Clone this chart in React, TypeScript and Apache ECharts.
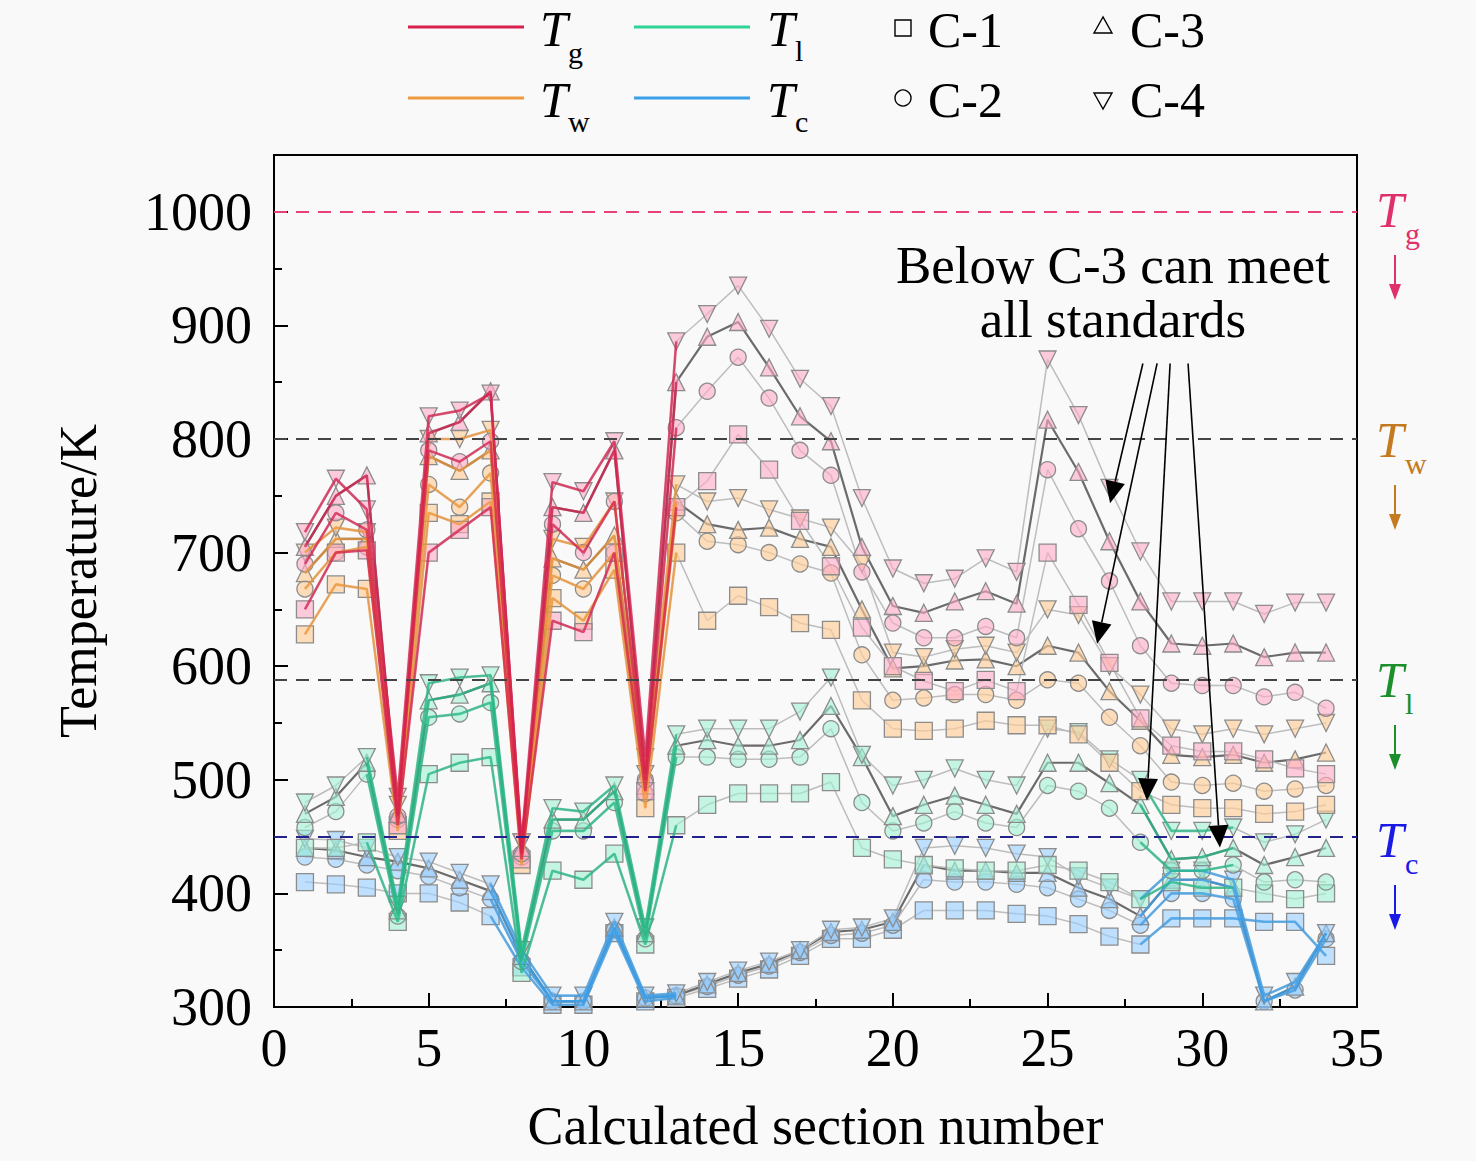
import { useEffect, useRef } from "react";
import * as echarts from "echarts";

const sections = [1, 2, 3, 4, 5, 6, 7, 8, 9, 10, 11, 12, 13, 14, 15, 16, 17, 18, 19, 20, 21, 22, 23, 24, 25, 26, 27, 28, 29, 30, 31, 32, 33, 34];

// gas temperature
const tgC1 = [650, 700, 702, 460, 700, 720, 740, 430, 640, 630, 700, 490, 740, 763, 804, 773, 728, 688, 634, 600, 587, 578, 588, 578, 700, 654, 603, 554, 530, 525, 525, 518, 510, 505];
const tgC2 = [690, 735, 720, 468, 790, 780, 798, 435, 725, 700, 745, 500, 810, 842, 872, 836, 790, 768, 683, 638, 625, 625, 635, 625, 773, 721, 675, 618, 585, 583, 583, 573, 577, 563];
const tgC3 = [705, 750, 768, 470, 805, 815, 842, 440, 740, 735, 790, 505, 850, 890, 903, 863, 820, 798, 705, 653, 647, 657, 666, 655, 817, 771, 710, 657, 620, 618, 620, 608, 612, 612];
const tgC4 = [718, 765, 738, 485, 820, 825, 840, 445, 762, 754, 798, 520, 886, 910, 935, 897, 853, 829, 748, 686, 673, 677, 695, 683, 870, 821, 757, 701, 657, 657, 657, 646, 656, 656];

// wall temperature
const twC1 = [628, 672, 668, 455, 735, 725, 745, 425, 660, 640, 685, 475, 700, 640, 662, 652, 638, 632, 570, 545, 543, 545, 552, 548, 548, 540, 515, 490, 478, 475, 475, 470, 472, 478];
const twC2 = [668, 700, 705, 465, 760, 740, 770, 432, 680, 668, 700, 488, 735, 710, 707, 700, 690, 682, 610, 570, 572, 575, 575, 570, 588, 585, 555, 530, 498, 495, 497, 490, 492, 495];
const twC3 = [682, 712, 712, 470, 785, 772, 790, 438, 695, 685, 715, 495, 745, 725, 720, 722, 712, 705, 650, 598, 600, 605, 606, 600, 618, 612, 578, 552, 522, 520, 522, 515, 518, 524];
const twC4 = [700, 722, 718, 478, 800, 800, 808, 445, 712, 705, 745, 505, 760, 745, 748, 738, 730, 722, 690, 612, 608, 615, 618, 612, 650, 645, 600, 575, 545, 540, 545, 540, 545, 550];

// liner temperature
const tlC1 = [440, 440, 445, 375, 505, 515, 520, 330, 420, 412, 435, 355, 460, 478, 488, 488, 488, 498, 440, 430, 425, 422, 420, 420, 425, 420, 410, 395, 410, 405, 405, 400, 395, 400];
const tlC2 = [458, 472, 505, 380, 555, 558, 568, 340, 455, 455, 480, 360, 520, 520, 518, 518, 520, 545, 480, 455, 462, 472, 462, 458, 495, 490, 475, 445, 420, 420, 425, 410, 412, 410];
const tlC3 = [470, 485, 515, 385, 570, 575, 585, 345, 465, 465, 490, 365, 530, 535, 530, 530, 535, 565, 520, 468, 478, 486, 478, 470, 515, 515, 497, 478, 430, 432, 440, 425, 432, 440];
const tlC4 = [480, 495, 520, 390, 585, 590, 592, 350, 475, 472, 495, 370, 540, 545, 545, 545, 560, 590, 522, 495, 500, 510, 500, 495, 545, 542, 518, 500, 455, 455, 458, 445, 452, 465];

// coolant temperature
const tcC1 = [410, 408, 405, 400, 400, 392, 380, 335, 302, 302, 365, 305, 308, 316, 325, 333, 345, 360, 360, 368, 385, 385, 385, 382, 380, 373, 362, 355, 378, 378, 378, 375, 375, 345];
const tcC2 = [432, 430, 425, 420, 415, 405, 395, 340, 305, 305, 368, 308, 310, 318, 328, 336, 348, 363, 365, 372, 412, 410, 410, 408, 405, 395, 385, 372, 400, 400, 395, 305, 315, 360];
const tcC3 = [440, 438, 432, 428, 422, 412, 402, 345, 305, 305, 370, 308, 310, 320, 330, 338, 350, 366, 368, 375, 425, 420, 420, 418, 418, 405, 395, 380, 412, 412, 405, 305, 318, 365];
const tcC4 = [448, 447, 440, 432, 428, 418, 408, 350, 310, 310, 375, 310, 312, 322, 332, 340, 350, 368, 370, 378, 440, 442, 440, 435, 432, 415, 405, 395, 420, 420, 412, 310, 322, 365];

const caseNames = ["C-1", "C-2", "C-3", "C-4"];
const caseSymbols = ["rect", "circle", "triangle", "triangle"];
const caseRotate = [0, 0, 0, 180];
const caseLine = ["#bdbdbd", "#bdbdbd", "#6b6b6b", "#bdbdbd"];
const caseWidth = [1.5, 1.5, 2.2, 1.5];

const limits = [1000, 800, 588, 450];
const limitColors = ["#e8407a", "#444444", "#444444", "#22228a"];

// annotation arrows: [start, tip] in data units
const noteArrows = [
  [[28.08, 866.5], [27.02, 743.5]],
  [[28.54, 866.5], [26.6, 619.7]],
  [[28.96, 866.5], [28.21, 481.8]],
  [[29.54, 866.5], [30.57, 440.5]],
];

const FONT = "'Liberation Serif', 'Times New Roman', serif";

const variables = [
  { name: "Tc", values: [tcC1, tcC2, tcC3, tcC4], fill: "rgba(150,205,255,0.6)", color: "#3d9de6", ranges: [[7, 13], [28, 34]] },
  { name: "Tl", values: [tlC1, tlC2, tlC3, tlC4], fill: "rgba(160,240,210,0.6)", color: "#26b884", ranges: [[3, 13], [28, 31]] },
  { name: "Tw", values: [twC1, twC2, twC3, twC4], fill: "rgba(255,205,150,0.65)", color: "#ee9538", ranges: [[1, 13]] },
  { name: "Tg", values: [tgC1, tgC2, tgC3, tgC4], fill: "rgba(255,170,200,0.6)", color: "#d6204e", ranges: [[1, 13]] },
];

const inRanges = (x: number, ranges: number[][]) => ranges.some(([a, b]) => x >= a && x <= b);

function txt(text: string, x: number, y: number, font: string, fill = "#000", align = "left") {
  return { type: "text", x, y, style: { text, font, fill, align, verticalAlign: "middle" } };
}

export default function App() {
  const ref = useRef<HTMLDivElement>(null);

  useEffect(() => {
    if (!ref.current) return;
    document.body.style.background = "#f9f9f9";
    const chart = echarts.init(ref.current, undefined, { renderer: "svg" });

    const series: any[] = [];
    variables.forEach((v) => {
      v.values.forEach((vals, c) => {
        series.push({
          type: "line",
          name: `${v.name} ${caseNames[c]}`,
          data: sections.map((s, i) => [s, vals[i]]),
          symbol: caseSymbols[c],
          symbolRotate: caseRotate[c],
          symbolSize: c === 1 ? 16 : 17,
          showAllSymbol: true,
          lineStyle: { color: caseLine[c], width: caseWidth[c] },
          itemStyle: { color: v.fill, borderColor: "#8c8c8c", borderWidth: 1.3 },
          emphasis: { disabled: true },
          silent: true,
          z: 3,
        });
      });
    });
    variables.forEach((v) => {
      v.values.forEach((vals) => {
        series.push({
          type: "line",
          data: sections.map((s, i) => [s, inRanges(s, v.ranges) ? vals[i] : "-"]),
          symbol: "none",
          lineStyle: { color: v.color, width: 2.6, opacity: 0.75 },
          emphasis: { disabled: true },
          silent: true,
          z: 4,
        });
      });
    });
    series.push({
      type: "line",
      data: [],
      silent: true,
      z: 5,
      markLine: {
        silent: true,
        symbol: "none",
        label: { show: false },
        emphasis: { disabled: true },
        data: limits.map((y, i) => ({ yAxis: y, lineStyle: { color: limitColors[i], type: [13, 9], width: 2 } })),
      },
    });

    const axisCommon = {
      axisLine: { show: true, lineStyle: { color: "#000", width: 2 } },
      axisTick: { show: true, inside: true, length: 14, lineStyle: { color: "#000", width: 2 } },
      minorTick: { show: true, splitNumber: 2, length: 8, lineStyle: { color: "#000", width: 2 } },
      splitLine: { show: false },
    };

    chart.setOption({
      animation: false,
      backgroundColor: "#f9f9f9",
      grid: { left: 274, top: 155, width: 1083, height: 852, show: true, borderColor: "#000", borderWidth: 2 },
      xAxis: {
        type: "value",
        min: 0,
        max: 35,
        interval: 5,
        name: "Calculated section number",
        nameLocation: "middle",
        nameGap: 92,
        nameTextStyle: { fontFamily: FONT, fontSize: 54, color: "#000" },
        axisLabel: { fontFamily: FONT, fontSize: 54, color: "#000", margin: 14 },
        ...axisCommon,
      },
      yAxis: {
        type: "value",
        min: 300,
        max: 1050,
        interval: 100,
        name: "Temperature/K",
        nameLocation: "middle",
        nameGap: 170,
        nameTextStyle: { fontFamily: FONT, fontSize: 52, color: "#000" },
        axisLabel: { fontFamily: FONT, fontSize: 54, color: "#000", margin: 22, showMaxLabel: false, formatter: (v: number) => String(v) },
        ...axisCommon,
      },
      series,
    });

    const graphic: any[] = [];

    // legend: line keys
    const legendLines = [
      { x: 408, y: 27, color: "#d6204e", sub: "g", tx: 540, sy: 52 },
      { x: 408, y: 98, color: "#f09a40", sub: "w", tx: 540, sy: 121 },
      { x: 634, y: 27, color: "#2fd396", sub: "l", tx: 767, sy: 50 },
      { x: 634, y: 98, color: "#3aa0e8", sub: "c", tx: 767, sy: 121 },
    ];
    legendLines.forEach((l) => {
      graphic.push({ type: "line", shape: { x1: l.x, y1: l.y, x2: l.x + 116, y2: l.y }, style: { stroke: l.color, lineWidth: 3 } });
      graphic.push(txt("T", l.tx, l.y + 2, `italic 50px ${FONT}`));
      graphic.push(txt(l.sub, l.tx + 28, l.sy, `30px ${FONT}`));
    });
    // legend: case markers
    const mk = { fill: "none", stroke: "#000", lineWidth: 1.4 };
    graphic.push({ type: "rect", shape: { x: 895, y: 20, width: 16, height: 16 }, style: mk });
    graphic.push({ type: "circle", shape: { cx: 903, cy: 98, r: 8 }, style: mk });
    graphic.push({ type: "polygon", shape: { points: [[1103, 17], [1094, 33], [1112, 33]] }, style: mk });
    graphic.push({ type: "polygon", shape: { points: [[1103, 109], [1094, 93], [1112, 93]] }, style: mk });
    graphic.push(txt("C-1", 928, 30, `50px ${FONT}`));
    graphic.push(txt("C-2", 928, 100, `50px ${FONT}`));
    graphic.push(txt("C-3", 1130, 30, `50px ${FONT}`));
    graphic.push(txt("C-4", 1130, 100, `50px ${FONT}`));

    // right-hand limit labels
    const sideLabels = [
      { y: 210, sub: "g", color: "#e0306a" },
      { y: 440, sub: "w", color: "#c47a20" },
      { y: 680, sub: "l", color: "#1a8f2a" },
      { y: 840, sub: "c", color: "#1a1ae6" },
    ];
    sideLabels.forEach((s) => {
      graphic.push(txt("T", 1376, s.y, `italic 50px ${FONT}`, s.color));
      graphic.push(txt(s.sub, 1405, s.y + 23, `30px ${FONT}`, s.color));
      graphic.push({ type: "line", shape: { x1: 1395, y1: s.y + 45, x2: 1395, y2: s.y + 80 }, style: { stroke: s.color, lineWidth: 2 } });
      graphic.push({ type: "polygon", shape: { points: [[1395, s.y + 90], [1389, s.y + 74], [1401, s.y + 74]] }, style: { fill: s.color } });
    });

    graphic.push(txt("Below C-3 can meet", 1113, 265, `53px ${FONT}`, "#000", "center"));
    graphic.push(txt("all standards", 1113, 319, `53px ${FONT}`, "#000", "center"));

    // annotation arrows, placed through the axes' scales
    noteArrows.forEach(([a, b]) => {
      const p0 = chart.convertToPixel({ gridIndex: 0 }, a) as number[];
      const p1 = chart.convertToPixel({ gridIndex: 0 }, b) as number[];
      const dx = p1[0] - p0[0];
      const dy = p1[1] - p0[1];
      const len = Math.hypot(dx, dy);
      const ux = dx / len;
      const uy = dy / len;
      const hl = 22;
      const hw = 10;
      const bx = p1[0] - ux * hl;
      const by = p1[1] - uy * hl;
      graphic.push({ type: "line", z: 10, shape: { x1: p0[0], y1: p0[1], x2: bx, y2: by }, style: { stroke: "#000", lineWidth: 1.6 } });
      graphic.push({
        type: "polygon",
        z: 10,
        shape: { points: [[p1[0], p1[1]], [bx - uy * hw, by + ux * hw], [bx + uy * hw, by - ux * hw]] },
        style: { fill: "#000" },
      });
    });

    chart.setOption({ graphic });

    return () => chart.dispose();
  }, []);

  return <div ref={ref} style={{ position: "absolute", left: 0, top: 0, width: 1476, height: 1161 }} />;
}
